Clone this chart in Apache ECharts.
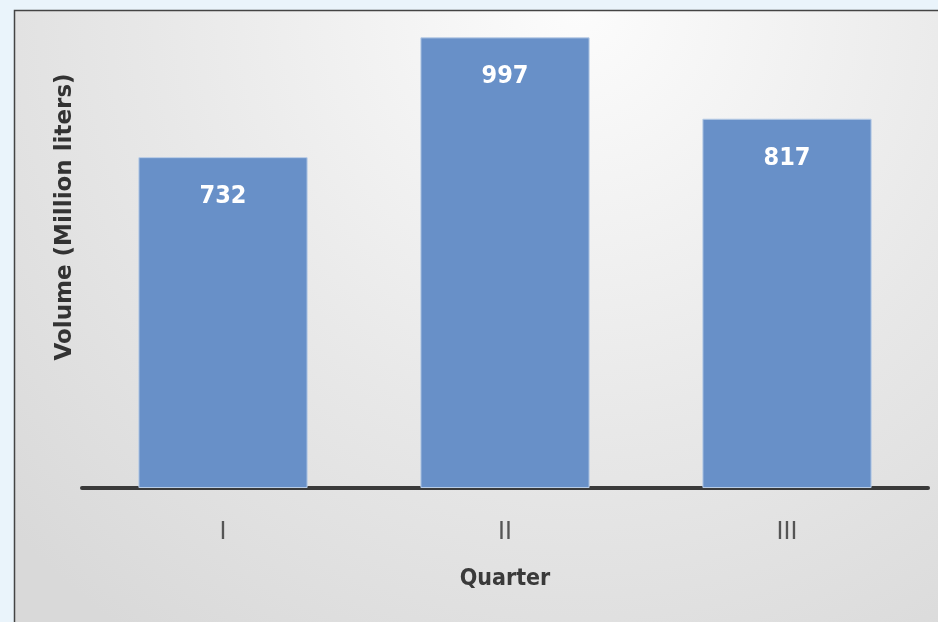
<!DOCTYPE html>
<html>
<head>
<meta charset="utf-8">
<script src="https://cdn.jsdelivr.net/npm/echarts@6/dist/echarts.min.js"></script>
<style>
html,body{margin:0;padding:0;background:#eaf4fb;}
#chart{width:938px;height:622px;}
</style>
</head>
<body>
<div id="chart"></div>
<script>
const categories = ['I', 'II', 'III'];
const volumes = [732, 997, 817];
const xAxisTitle = 'Quarter';
const yAxisTitle = 'Volume (Million liters)';

const condensed = "'DejaVu Sans Condensed', 'Liberation Sans', sans-serif";
const chart = echarts.init(document.getElementById('chart'));
chart.setOption({
  backgroundColor: '#eaf4fb',
  animation: false,
  graphic: [{
    type: 'rect',
    z: -10,
    shape: { x: 14.5, y: 10.5, width: 940, height: 640 },
    style: {
      fill: {
        type: 'radial', x: 0.6, y: 0.0, r: 1.2,
        colorStops: [
          { offset: 0, color: '#fcfcfc' },
          { offset: 0.55, color: '#e8e8e8' },
          { offset: 1, color: '#d9d9d9' }
        ]
      },
      stroke: '#444',
      lineWidth: 1.5
    }
  }, {
    type: 'text',
    x: 65,
    y: 217,
    rotation: Math.PI / 2,
    style: {
      text: yAxisTitle,
      fontFamily: 'DejaVu Sans',
      fontWeight: 'bold',
      fontSize: 23,
      fill: '#333',
      align: 'center',
      verticalAlign: 'middle'
    }
  }],
  grid: { left: 82, right: 10, top: 36, bottom: 134, containLabel: false },
  xAxis: {
    type: 'category',
    data: categories,
    name: xAxisTitle,
    nameLocation: 'middle',
    nameGap: 80,
    nameTextStyle: { fontFamily: condensed, fontWeight: 'bold', fontSize: 23, color: '#3a3a3a' },
    axisLine: { lineStyle: { color: '#3a3a3a', width: 4 } },
    axisTick: { show: false },
    axisLabel: { margin: 32, fontFamily: 'Liberation Sans', fontSize: 25, color: '#555' }
  },
  yAxis: {
    type: 'value',
    min: 0,
    max: 1000,
    axisLine: { show: false },
    axisTick: { show: false },
    axisLabel: { show: false },
    splitLine: { show: false }
  },
  series: [{
    type: 'bar',
    data: volumes,
    barWidth: '60%',
    itemStyle: { color: '#6890c8', borderColor: '#b8cce6', borderWidth: 1 },
    label: {
      show: true,
      position: 'insideTop',
      distance: 27,
      color: '#fff',
      fontFamily: condensed,
      fontWeight: 'bold',
      fontSize: 25
    }
  }]
});
</script>
</body>
</html>
